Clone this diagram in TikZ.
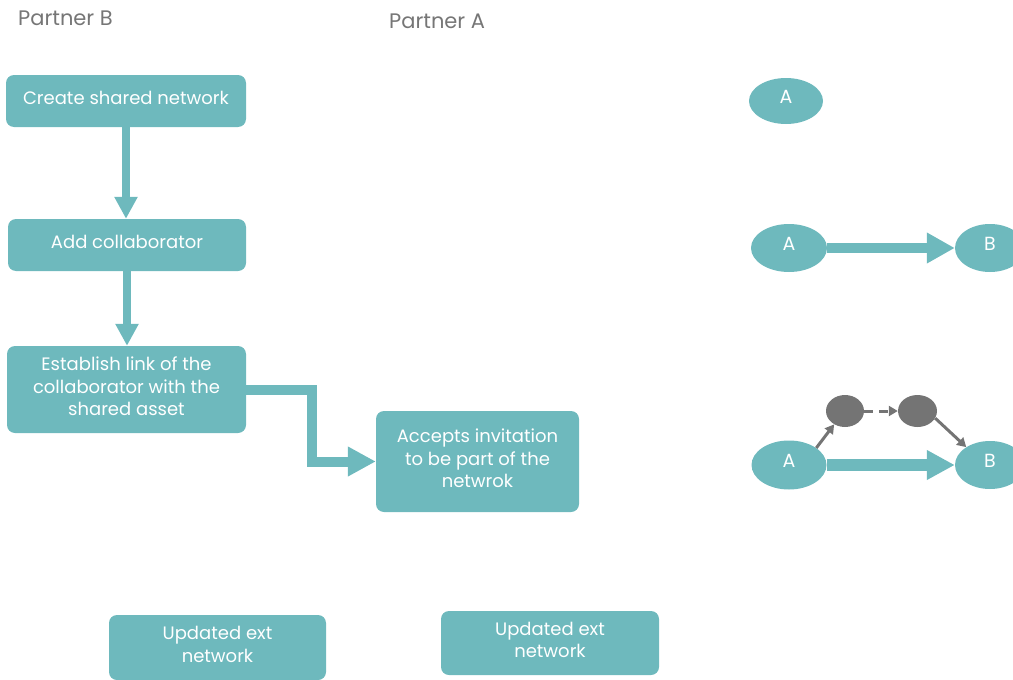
\documentclass[tikz,border=0pt]{standalone}
\usepackage{fontspec}
\setmainfont{Poppins}
\usetikzlibrary{arrows.meta,shapes.geometric}
\definecolor{boxteal}{HTML}{6EB9BD}
\definecolor{headgray}{HTML}{767676}
\definecolor{nodegray}{HTML}{747474}
\tikzset{
  stepbox/.style={rectangle, rounded corners=8pt, fill=boxteal, inner sep=0pt},
  steptext/.style={text=white, align=center, inner sep=0pt, yshift=3pt,
    font=\fontsize{18}{22.5}\selectfont},
  endpoint/.style={ellipse, fill=boxteal, inner sep=0pt},
  pointtext/.style={text=white, inner sep=0pt, yshift=4pt, font=\fontsize{19}{20}\selectfont},
  hop/.style={ellipse, fill=nodegray, inner sep=0pt, minimum width=38pt, minimum height=32pt},
  header/.style={anchor=west, text=headgray, inner sep=0pt, font=\fontsize{21}{23}\selectfont},
  flowdown/.style={draw=boxteal, line width=8pt, -{Triangle[width=22pt,length=22pt]}},
  flowwide/.style={draw=boxteal, line width=10pt, miter limit=10,
    -{Triangle[width=28pt,length=28pt]}},
  hoplink/.style={draw=nodegray, line width=3pt, -{Triangle[width=10pt,length=9pt]}},
}
\begin{document}
\begin{tikzpicture}[x=1pt,y=-1pt]
\useasboundingbox (0,0) rectangle (1013,680);

% column headers
\node[header] (hb) at (18,18) {Partner B};
\node[header] (ha) at (389,21) {Partner A};

% flow steps
\node[stepbox, minimum width=240pt, minimum height=52pt,
  label={[steptext]center:{Create shared network}}] (b1) at (126,101) {};
\node[stepbox, minimum width=238pt, minimum height=52pt,
  label={[steptext]center:{Add collaborator}}] (b2) at (127,245) {};
\node[stepbox, minimum width=239pt, minimum height=87pt,
  label={[steptext]center:{Establish link of the\\collaborator with the\\shared asset}}] (b3) at (126.5,389.5) {};
\node[stepbox, minimum width=203pt, minimum height=101pt,
  label={[steptext]center:{Accepts invitation\\to be part of the\\netwrok}}] (b4) at (477.5,461.5) {};
\node[stepbox, minimum width=217pt, minimum height=65pt,
  label={[steptext]center:{Updated ext\\network}}] (b5) at (217.5,647.5) {};
\node[stepbox, minimum width=218pt, minimum height=64pt,
  label={[steptext]center:{Updated ext\\network}}] (b6) at (550,643) {};

\draw[flowdown] (b1.south) -- (b1.south |- b2.north);
\draw[flowdown] (b2.south) -- (b2.south |- b3.north);
\draw[flowwide, line join=miter] (b3.east) -- ++(66,0) |- (b4.west);

% network states
\node[endpoint, minimum width=74pt, minimum height=46pt,
  label={[pointtext]center:A}] (a1) at (786,101) {};

\node[endpoint, minimum width=76pt, minimum height=48pt,
  label={[pointtext]center:A}] (a2) at (789,248) {};
\node[endpoint, minimum width=70pt, minimum height=48pt,
  label={[pointtext]center:B}] (bb2) at (990,248) {};
\draw[flowwide, -{Triangle[width=29pt,length=28pt]}] (a2) -- (bb2);

\node[endpoint, minimum width=75pt, minimum height=49pt,
  label={[pointtext]center:A}] (a3) at (789,465) {};
\node[endpoint, minimum width=70pt, minimum height=48pt,
  label={[pointtext]center:B}] (bb3) at (990,465) {};
\node[hop] (g1) at (845,411) {};
\node[hop, minimum width=39pt] (g2) at (917.5,411) {};
\draw[flowwide, line width=12pt, -{Triangle[width=28pt,length=28pt]}] (a3) -- (bb3);
\draw[hoplink] (a3.32) -- (g1.231);
\draw[hoplink, dash pattern=on 9pt off 6pt] (g1.east) -- (g2.west);
\draw[hoplink] (g2.338) -- (bb3.143);
\end{tikzpicture}
\end{document}
